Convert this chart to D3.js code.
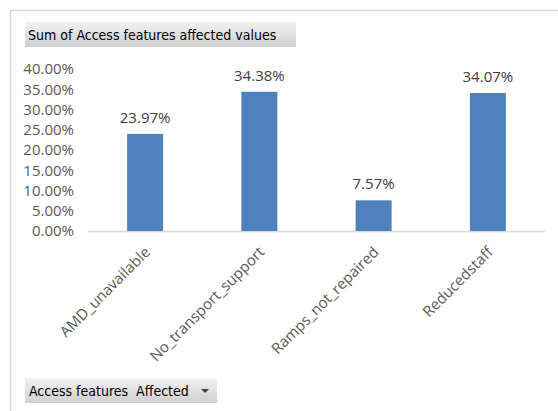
<!DOCTYPE html>
<html>
<head>
<meta charset="utf-8">
<script src="https://d3js.org/d3.v7.min.js"></script>
<style>
  html, body { margin: 0; padding: 0; background: #ffffff; }
  svg { display: block; }
</style>
</head>
<body>
<svg id="chart" width="558" height="411"></svg>
<script>
const categories = ["AMD_unavailable", "No_transport_support", "Ramps_not_repaired", "Reducedstaff"];
const values = [23.97, 34.38, 7.57, 34.07];
const yTicks = [0, 5, 10, 15, 20, 25, 30, 35, 40];
const titleText = "Sum of Access features affected values";
const filterText = "Access features  Affected";

const svg = d3.select("#chart");
const W = 558, H = 411;
const labelFont = "'Open Sans', 'Liberation Sans', sans-serif";
const boxFont = "'DejaVu Sans Condensed', 'DejaVu Sans', sans-serif";

const defs = svg.append("defs");
const grad = defs.append("linearGradient").attr("id", "btnGrad").attr("x1", 0).attr("y1", 0).attr("x2", 0).attr("y2", 1);
grad.append("stop").attr("offset", "0%").attr("stop-color", "#f2f2f2");
grad.append("stop").attr("offset", "100%").attr("stop-color", "#cfcfcf");

svg.append("path")
  .attr("d", `M10.5,${H} L10.5,10.5 L${W},10.5`)
  .attr("fill", "none").attr("stroke", "#d9d9d9").attr("stroke-width", 1.5);

const plot = { left: 88, right: 545, top: 69, bottom: 231 };

const x = d3.scaleBand().domain(categories).range([plot.left, plot.right]).paddingInner(0.685).paddingOuter(0.3425);
const y = d3.scaleLinear().domain([0, 40]).range([plot.bottom, plot.top]);

const yAxis = d3.axisLeft(y).tickValues(yTicks).tickSize(0).tickPadding(0)
  .tickFormat(d => d.toFixed(2) + "%");
const yG = svg.append("g").attr("transform", `translate(74,0)`).call(yAxis);
yG.select(".domain").remove();
yG.selectAll("text").attr("fill", "#595959").style("font-family", labelFont).style("font-size", "15px");

svg.append("line")
  .attr("x1", plot.left).attr("x2", plot.right)
  .attr("y1", y(0) + 0.5).attr("y2", y(0) + 0.5)
  .attr("stroke", "#d9d9d9").attr("stroke-width", 1.5);

svg.append("g").selectAll("rect").data(values).join("rect")
  .attr("x", (d, i) => x(categories[i]))
  .attr("width", x.bandwidth())
  .attr("y", d => y(d))
  .attr("height", d => y(0) - y(d))
  .attr("fill", "#4f81bd");

svg.append("g").selectAll("text").data(values).join("text")
  .attr("x", (d, i) => x(categories[i]) + x.bandwidth() / 2)
  .attr("y", d => y(d) - 11)
  .attr("text-anchor", "middle")
  .attr("fill", "#404040")
  .style("font-family", labelFont).style("font-size", "15px")
  .text(d => d.toFixed(2) + "%");

svg.append("g").selectAll("text").data(categories).join("text")
  .attr("transform", d => `translate(${x(d) + x.bandwidth() / 2 + 6},${y(0) + 22}) rotate(-45)`)
  .attr("text-anchor", "end")
  .attr("fill", "#595959")
  .style("font-family", labelFont).style("font-size", "15px")
  .text(d => d);

const tb = svg.append("g");
tb.append("rect").attr("x", 25).attr("y", 22).attr("width", 271).attr("height", 25).attr("fill", "url(#btnGrad)");
tb.append("text").attr("x", 28).attr("y", 40).attr("fill", "#000")
  .style("font-family", boxFont).style("font-size", "14px").text(titleText);

const fb = svg.append("g");
fb.append("rect").attr("x", 25).attr("y", 378).attr("width", 192).attr("height", 25).attr("fill", "url(#btnGrad)");
fb.append("text").attr("x", 29).attr("y", 396).attr("fill", "#000")
  .style("font-family", boxFont).style("font-size", "14px").style("white-space", "pre").text(filterText);
fb.append("path").attr("d", "M201,389 L209,389 L205,393 Z").attr("fill", "#404040");
</script>
</body>
</html>
